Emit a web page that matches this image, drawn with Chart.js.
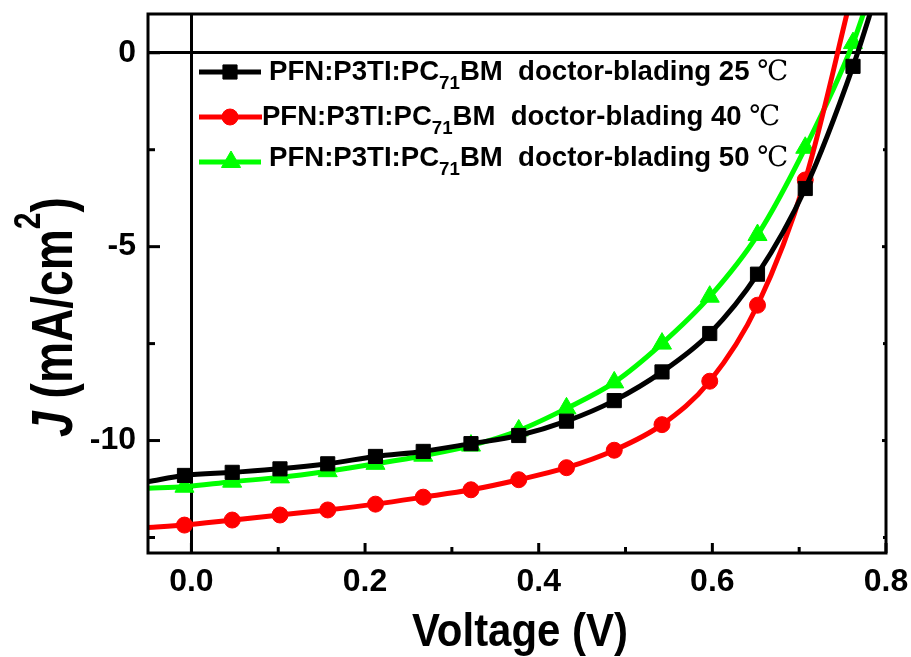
<!DOCTYPE html>
<html><head><meta charset="utf-8">
<script src="https://cdn.jsdelivr.net/npm/chart.js@4.4.1/dist/chart.umd.min.js"></script>
<style>html,body{margin:0;padding:0;background:#fff;} canvas{display:block;}</style>
</head><body>
<canvas id="c" width="911" height="657"></canvas>
<script>
// ---- data ----
const VOLTAGE = [-0.008, 0.047, 0.102, 0.157, 0.212, 0.267, 0.322, 0.377, 0.432, 0.487, 0.542, 0.597, 0.652, 0.707, 0.762];
const J_25C = [-10.90, -10.82, -10.73, -10.60, -10.41, -10.28, -10.08, -9.87, -9.50, -8.97, -8.23, -7.24, -5.71, -3.50, -0.35];
const J_40C = [-12.18, -12.05, -11.92, -11.79, -11.64, -11.46, -11.27, -11.01, -10.70, -10.25, -9.59, -8.47, -6.51, -3.28, 1.65];
const J_50C = [-11.19, -11.06, -10.95, -10.79, -10.60, -10.39, -10.13, -9.74, -9.17, -8.50, -7.50, -6.29, -4.70, -2.45, 0.25];
// curve continuation beyond the markers (line only, no marker)
const EDGE_V = [-0.05, 0.79];
const EDGE_25C = [-11.06, 1.6];
const EDGE_40C = [-12.24, null];
const EDGE_50C = [-11.23, 2.1];

const SERIES_TEMPS = ['25', '40', '50'];
const X_TICKS = [0.0, 0.2, 0.4, 0.6, 0.8];
const X_MINOR = [0.1, 0.3, 0.5, 0.7];
const Y_TICKS = [-10, -5, 0];
const Y_MINOR = [-12.5, -7.5, -2.5];
const X_TITLE = 'Voltage (V)';

const SANS = '"Liberation Sans", Arial, Helvetica, sans-serif';
const SERIF = '"DejaVu Serif", "Liberation Serif", serif';

function buildPoints(J, edgeJ) {
  const pts = VOLTAGE.map((v, i) => ({x: v, y: J[i], m: true}));
  EDGE_V.forEach((v, i) => { if (edgeJ[i] !== null) pts.push({x: v, y: edgeJ[i], m: false}); });
  return pts.sort((a, b) => a.x - b.x);
}

const STYLES = [
  {color: '#000000', style: 'rect', r: 10},
  {color: '#ff0000', style: 'circle', r: 8},
  {color: '#00ff00', style: 'triangle', r: 11}
];
const SERIES = [buildPoints(J_25C, EDGE_25C), buildPoints(J_40C, EDGE_40C), buildPoints(J_50C, EDGE_50C)];

const datasets = SERIES.map((pts, i) => ({
  label: 'PFN:P3TI:PC71BM doctor-blading ' + SERIES_TEMPS[i] + ' ℃',
  data: pts,
  borderColor: STYLES[i].color,
  backgroundColor: STYLES[i].color,
  pointBackgroundColor: STYLES[i].color,
  pointBorderColor: STYLES[i].color,
  pointBorderWidth: 1,
  borderWidth: 5,
  pointStyle: STYLES[i].style,
  pointRadius: c => (c.raw && c.raw.m) ? STYLES[i].r : 0,
  pointHoverRadius: c => (c.raw && c.raw.m) ? STYLES[i].r : 0,
  cubicInterpolationMode: 'monotone',
  clip: 0
}));

const zeroGrid = {
  drawTicks: false,
  lineWidth: 3,
  color: c => (c.tick && c.tick.value === 0) ? '#000' : 'rgba(0,0,0,0)'
};

function noPad(s) { s.paddingTop = 0; s.paddingBottom = 0; s.paddingLeft = 0; s.paddingRight = 0; }

const framePlugin = {
  id: 'frame',
  afterDatasetsDraw(chart) {
    const {ctx, chartArea: a, scales: {x, y}} = chart;
    ctx.save();
    ctx.strokeStyle = '#000';
    ctx.lineWidth = 3;
    ctx.lineCap = 'butt';
    const seg = (x1, y1, x2, y2) => { ctx.beginPath(); ctx.moveTo(x1, y1); ctx.lineTo(x2, y2); ctx.stroke(); };
    X_TICKS.forEach(v => { const p = x.getPixelForValue(v); seg(p, a.bottom, p, a.bottom - 10); });
    X_MINOR.forEach(v => { const p = x.getPixelForValue(v); seg(p, a.bottom, p, a.bottom - 6); });
    Y_TICKS.forEach(v => { const p = y.getPixelForValue(v); seg(a.left, p, a.left + 12, p); seg(a.right, p, a.right - 4, p); });
    Y_MINOR.forEach(v => { const p = y.getPixelForValue(v); seg(a.left, p, a.left + 7, p); seg(a.right, p, a.right - 3, p); });
    ctx.strokeRect(a.left, a.top, a.right - a.left, a.bottom - a.top);
    ctx.restore();
  }
};

function drawParts(ctx, parts) {
  let x = 0;
  parts.forEach(p => {
    ctx.font = p.font;
    ctx.fillText(p.t, x, p.dy || 0);
    x += ctx.measureText(p.t).width;
  });
}
function partsWidth(ctx, parts) {
  let w = 0;
  parts.forEach(p => { ctx.font = p.font; w += ctx.measureText(p.t).width; });
  return w;
}

const textPlugin = {
  id: 'texts',
  afterDraw(chart) {
    const {ctx, chartArea: a} = chart;
    ctx.save();
    ctx.fillStyle = '#000';
    ctx.textBaseline = 'alphabetic';
    ctx.textAlign = 'left';

    // legend
    const rows = [
      {y: 72, x1: 199, x2: 261, mx: 230, tx: 269, base: 80, w: 519},
      {y: 117, x1: 199, x2: 262, mx: 230, tx: 262, base: 125, w: 518},
      {y: 162, x1: 199, x2: 261, mx: 231, tx: 269, base: 166, w: 519}
    ];
    rows.forEach((r, i) => {
      const st = STYLES[i];
      ctx.save();
      ctx.strokeStyle = st.color;
      ctx.fillStyle = st.color;
      ctx.lineWidth = 5;
      ctx.beginPath(); ctx.moveTo(r.x1, r.y); ctx.lineTo(r.x2, r.y); ctx.stroke();
      ctx.lineWidth = 1;
      Chart.helpers.drawPoint(ctx, {pointStyle: st.style, radius: st.r, rotation: 0, borderWidth: 1}, r.mx, r.y);
      ctx.restore();
      const parts = [
        {t: 'PFN:P3TI:PC', font: 'bold 28px ' + SANS},
        {t: '71', font: 'bold 19px ' + SANS, dy: 9},
        {t: 'BM  doctor-blading ' + SERIES_TEMPS[i] + ' ', font: 'bold 28px ' + SANS},
        {t: '℃', font: '28px ' + SERIF}
      ];
      const w = partsWidth(ctx, parts);
      ctx.save();
      ctx.translate(r.tx, r.base);
      ctx.scale(r.w / w, 1);
      drawParts(ctx, parts);
      ctx.restore();
    });

    // x title
    ctx.save();
    ctx.font = 'bold 46px ' + SANS;
    const xw = ctx.measureText(X_TITLE).width;
    ctx.translate((a.left + a.right) / 2 + 3, 646);
    ctx.scale(216 / xw, 1);
    ctx.textAlign = 'center';
    ctx.fillText(X_TITLE, 0, 0);
    ctx.restore();

    // y title
    const yparts = [
      {t: 'J', font: 'italic bold 52px ' + SANS},
      {t: ' (mA/cm', font: 'bold 52px ' + SANS},
      {t: '2', font: 'bold 34px ' + SANS, dy: -29},
      {t: ')', font: 'bold 52px ' + SANS}
    ];
    ctx.save();
    const yw = partsWidth(ctx, yparts);
    ctx.translate(72, 437);
    ctx.rotate(-Math.PI / 2);
    ctx.scale(240 / yw, 1.1);
    drawParts(ctx, yparts);
    ctx.restore();

    ctx.restore();
  }
};

const tickFont = {family: SANS, size: 32, weight: 'bold'};

new Chart(document.getElementById('c'), {
  type: 'line',
  data: {datasets},
  options: {
    responsive: false,
    animation: false,
    devicePixelRatio: 1,
    layout: {padding: {top: 14, right: 25, bottom: 0, left: 0}},
    plugins: {legend: {display: false}, tooltip: {enabled: false}},
    events: [],
    scales: {
      x: {
        type: 'linear', min: -0.05, max: 0.8,
        afterBuildTicks: s => { s.ticks = X_TICKS.map(v => ({value: v})); },
        afterFit: s => { s.height = 104; noPad(s); },
        grid: zeroGrid,
        border: {display: false},
        ticks: {padding: 10, font: tickFont, color: '#000', maxRotation: 0, autoSkip: false,
                callback: v => Number(v).toFixed(1)}
      },
      y: {
        type: 'linear', min: -12.9, max: 1.0,
        afterBuildTicks: s => { s.ticks = Y_TICKS.map(v => ({value: v})); },
        afterFit: s => { s.width = 148; noPad(s); },
        grid: zeroGrid,
        border: {display: false},
        ticks: {padding: 12, font: tickFont, color: '#000', autoSkip: false,
                callback: v => String(v)}
      }
    }
  },
  plugins: [framePlugin, textPlugin]
});
</script>
</body></html>
